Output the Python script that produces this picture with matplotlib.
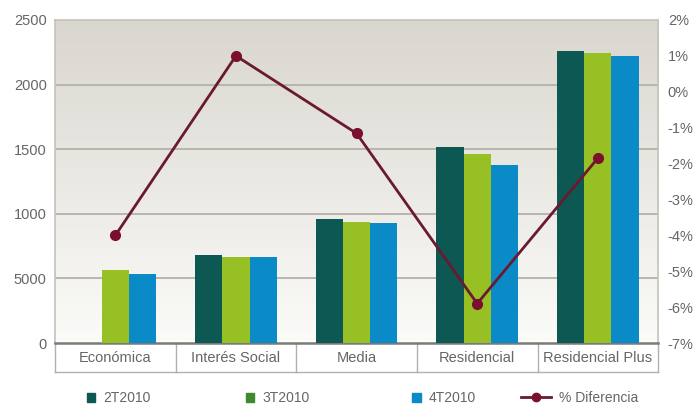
import matplotlib
matplotlib.use("Agg")
import matplotlib.pyplot as plt
import numpy as np
from matplotlib.patches import Patch
from matplotlib.lines import Line2D

plt.rcParams['font.family'] = ['Liberation Sans', 'DejaVu Sans']

categorias = ['Económica', 'Interés Social', 'Media', 'Residencial', 'Residencial Plus']
series = ['2T2010', '3T2010', '4T2010']
t2_2010 = [0, 679, 962, 1519, 2262]
t3_2010 = [565, 668, 937, 1463, 2247]
t4_2010 = [534, 668, 930, 1380, 2221]
pct_diferencia = [-4.0, 1.0, -1.16, -5.9, -1.85]

left_ticks = [0, 500, 1000, 1500, 2000, 2500]
left_labels = ['0', '5000', '1000', '1500', '2000', '2500']
right_ticks = [-7, -6, -5, -4, -3, -2, -1, 0, 1, 2]

colores = ['#0d5852', '#97c024', '#0a8ac6']
color_leyenda = ['#0d5852', '#3f8a2c', '#0a8ac6']
color_linea = '#6a1a30'
gris = '#666666'

fig = plt.figure(figsize=(6.94, 4.07), dpi=100)
ax = fig.add_axes([0.0793, 0.157, 0.869, 0.794])

# fondo degradado del área de trazado
grad = np.linspace(0, 1, 256).reshape(-1, 1)
top = np.array([0.85, 0.84, 0.81])
bot = np.array([0.985, 0.985, 0.975])
img = top + (bot - top) * grad[:, :, None]
ax.imshow(img, extent=[0, 1, 0, 1], transform=ax.transAxes, aspect='auto', zorder=0)

x = np.arange(len(categorias))
w = 0.225
for i, vals in enumerate([t2_2010, t3_2010, t4_2010]):
    ax.bar(x + (i - 1) * w, vals, w, color=colores[i], zorder=3)

ax.set_xlim(-0.5, len(categorias) - 0.5)
ax.set_ylim(0, 2500)
ax.set_yticks(left_ticks)
ax.set_yticklabels(left_labels)
ax.set_xticks([])
for v in left_ticks[1:-1]:
    ax.axhline(v, color='#b4b1a9', lw=1.3, zorder=1)

for s in ['left', 'top', 'right']:
    ax.spines[s].set_color('#c4c2bb')
    ax.spines[s].set_linewidth(1.2)
ax.spines['bottom'].set_color('#7a7a7a')
ax.spines['bottom'].set_linewidth(1.8)
ax.tick_params(axis='y', length=0, pad=6, labelsize=10.5, labelcolor=gris)

# caja de etiquetas de categoría
xt = ax.get_xaxis_transform()
for b in np.arange(-0.5, len(categorias), 1.0):
    ax.plot([b, b], [0, -0.09], transform=xt, color='#b0b0b0', lw=1, clip_on=False)
ax.plot([-0.5, len(categorias) - 0.5], [-0.09, -0.09], transform=xt, color='#b0b0b0', lw=1, clip_on=False)
for xi, c in zip(x, categorias):
    ax.text(xi, -0.045, c, transform=xt, ha='center', va='center', fontsize=10.5, color=gris)

ax2 = ax.twinx()
ax2.set_ylim(-7, 2)
ax2.set_yticks(right_ticks)
ax2.set_yticklabels([f'{v}%' for v in right_ticks])
ax2.tick_params(axis='y', length=0, pad=7, labelsize=10.5, labelcolor=gris)
for s in ax2.spines.values():
    s.set_visible(False)
ax2.plot(x, pct_diferencia, color=color_linea, lw=2, marker='o', ms=7,
         markerfacecolor='#7a0f2e', markeredgecolor='#7a0f2e', zorder=5)

# leyenda: cada entrada colocada por separado
handles = [Patch(color=c) for c in color_leyenda]
handles.append(Line2D([0], [0], color=color_linea, lw=2, marker='o', ms=6,
                      markerfacecolor='#7a0f2e', markeredgecolor='#7a0f2e'))
labels = series + ['% Diferencia']
pos_x = [0.125, 0.354, 0.594, 0.750]
for h, lab, px in zip(handles, labels, pos_x):
    largo = 2.2 if isinstance(h, Line2D) else 0.6
    fig.legend([h], [lab], loc='center left', bbox_to_anchor=(px, 0.022),
               frameon=False, fontsize=10, handlelength=largo, handleheight=0.6,
               handletextpad=0.6, borderpad=0, borderaxespad=0, labelcolor=gris)

fig.savefig('out.png', dpi=100)
